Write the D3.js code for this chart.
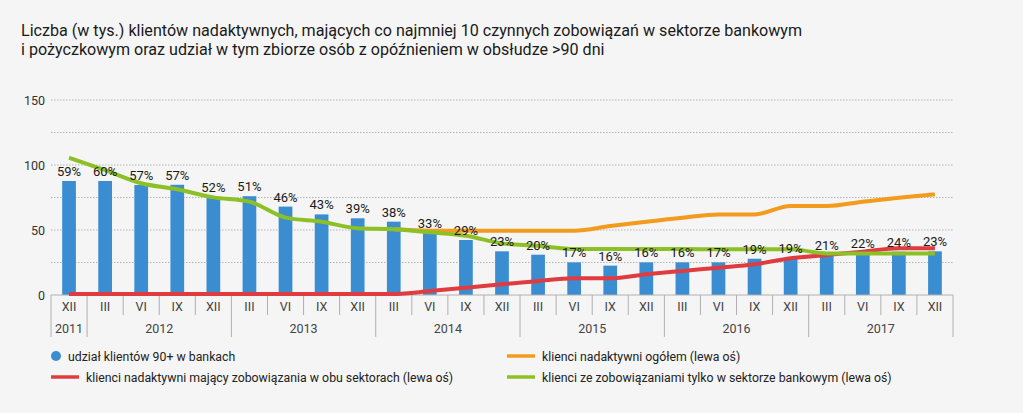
<!DOCTYPE html>
<html><head><meta charset="utf-8">
<script src="https://cdn.jsdelivr.net/npm/d3@7"></script>
<style>
html,body{margin:0;padding:0;background:#f5f5f5;}
svg{display:block;font-family:Roboto,"Open Sans",sans-serif;}
</style></head>
<body>
<svg id="c" width="1023" height="413"></svg>
<script>
const months = ["XII","III","VI","IX","XII","III","VI","IX","XII","III","VI","IX","XII","III","VI","IX","XII","III","VI","IX","XII","III","VI","IX","XII"];
const years = [{label:"2011",from:0,to:0},{label:"2012",from:1,to:4},{label:"2013",from:5,to:8},{label:"2014",from:9,to:12},{label:"2015",from:13,to:16},{label:"2016",from:17,to:20},{label:"2017",from:21,to:24}];
const barValues = [87.7,87.7,84.6,84.8,75.3,76,68,62,59,56.4,47.5,42.3,33.6,31,25.1,22.6,25.1,25.1,25.1,27.9,28.2,30.8,32,33.3,33.6];
const pctLabels = ["59%","60%","57%","57%","52%","51%","46%","43%","39%","38%","33%","29%","23%","20%","17%","16%","16%","16%","17%","19%","19%","21%","22%","24%","23%"];
const totalClients = [null,null,null,null,null,null,null,null,null,50.5,49.5,49.5,49.5,49.5,49.5,53,56.4,59.5,62,62,68.5,68.5,71.8,74.8,77.4];
const bothSectors = [0.8,0.8,0.8,0.8,0.8,0.8,0.8,0.8,0.8,0.8,3,5.6,8.2,10.8,12.8,12.8,15.9,18.5,21,23.6,28.2,30.8,33.3,35.9,35.9];
const bankOnly = [105.6,96,86,81.3,75.1,71.8,59.5,56.4,51.3,50.5,48.2,45.6,39.7,37.9,35.4,35.4,35.4,35.4,35.1,35.1,35.1,32,32,32,32];
const yTicks = [0,50,100,150];
const gridTicks = [0,25,50,75,100,125,150];
const title = ["Liczba (w tys.) klientów nadaktywnych, mających co najmniej 10 czynnych zobowiązań w sektorze bankowym","i pożyczkowym oraz udział w tym zbiorze osób z opóźnieniem w obsłudze >90 dni"];
const legendItems = [
 {label:"udział klientów 90+ w bankach", type:"dot", color:"#3a8dd0", col:0, row:0},
 {label:"klienci nadaktywni mający zobowiązania w obu sektorach (lewa oś)", type:"line", color:"#e03c40", col:0, row:1},
 {label:"klienci nadaktywni ogółem (lewa oś)", type:"line", color:"#f29b1d", col:1, row:0},
 {label:"klienci ze zobowiązaniami tylko w sektorze bankowym (lewa oś)", type:"line", color:"#8cc026", col:1, row:1}
];

const svg = d3.select("#c");
const L = 51, R = 953, T = 100, B = 295;
const x = d3.scaleBand().domain(d3.range(months.length)).range([L,R]).paddingInner(0.62).paddingOuter(0.31);
const xb = d3.scaleBand().domain(d3.range(months.length)).range([L,R]);
const y = d3.scaleLinear().domain([0,150]).range([B,T]);

// title
svg.append("g").selectAll("text").data(title).join("text")
 .attr("x",21).attr("y",(d,i)=>36+i*19).attr("font-size",16.1).attr("fill","#1a1a1a").text(d=>d);

// grid
svg.append("g").selectAll("line").data(gridTicks.filter(d=>d>0)).join("line")
 .attr("x1",L).attr("x2",R).attr("y1",d=>y(d)).attr("y2",d=>y(d))
 .attr("stroke","#b5b5b5").attr("stroke-width",1).attr("stroke-dasharray","1.5,1.5");

// y axis labels
const yAxis = d3.axisLeft(y).tickValues(yTicks).tickSize(0).tickPadding(6);
const ya = svg.append("g").attr("transform",`translate(${L},0)`).call(yAxis);
ya.select(".domain").remove();
ya.selectAll("text").attr("font-size",12.5).attr("fill","#333").attr("font-family","Roboto,sans-serif");

// bars
svg.append("g").selectAll("rect").data(barValues).join("rect")
 .attr("x",(d,i)=>x(i)).attr("width",x.bandwidth()).attr("y",d=>y(d)).attr("height",d=>B-y(d))
 .attr("fill","#3a8dd0");

// x axis
svg.append("line").attr("x1",L).attr("x2",R).attr("y1",B).attr("y2",B).attr("stroke","#b0b0b0");
const bounds = d3.range(months.length+1);
const yearBounds = new Set([0,...years.map(yy=>yy.to+1)]);
svg.append("g").selectAll("line").data(bounds).join("line")
 .attr("x1",i=>i<months.length?xb(i):R).attr("x2",i=>i<months.length?xb(i):R)
 .attr("y1",B).attr("y2",i=>yearBounds.has(i)?337:315)
 .attr("stroke","#b0b0b0");
svg.append("g").selectAll("text").data(months).join("text")
 .attr("x",(d,i)=>xb(i)+xb.bandwidth()/2).attr("y",310.5).attr("text-anchor","middle")
 .attr("font-size",12.5).attr("fill","#444").text(d=>d);
svg.append("g").selectAll("text").data(years).join("text")
 .attr("x",d=>(xb(d.from)+xb(d.to)+xb.bandwidth())/2).attr("y",332.5).attr("text-anchor","middle")
 .attr("font-size",12.5).attr("fill","#444").text(d=>d.label);

// lines
const cx = i=>xb(i)+xb.bandwidth()/2;
const lineGen = d3.line().defined(d=>d!=null).x((d,i)=>cx(i)).y(d=>y(d)).curve(d3.curveMonotoneX);
function drawLine(data,color){
 svg.append("path").datum(data).attr("d",lineGen).attr("fill","none").attr("stroke",color)
  .attr("stroke-width",4).attr("stroke-linejoin","round");
}
drawLine(bothSectors,"#e03c40");
drawLine(totalClients,"#f29b1d");
drawLine(bankOnly,"#8cc026");

// percent labels
svg.append("g").selectAll("text").data(pctLabels).join("text")
 .attr("x",(d,i)=>cx(i)).attr("y",(d,i)=>y(barValues[i])-5).attr("text-anchor","middle")
 .attr("font-size",13).attr("fill","#1a1a1a").text(d=>d);

// legend
const colX = [51,507], rowY=[356,377];
const lg = svg.append("g").selectAll("g").data(legendItems).join("g")
 .attr("transform",d=>`translate(${colX[d.col]},${rowY[d.row]})`);
lg.filter(d=>d.type==="dot").append("circle").attr("cx",5).attr("cy",0).attr("r",5).attr("fill",d=>d.color);
lg.filter(d=>d.type==="line").append("line").attr("x1",0).attr("x2",28).attr("y1",0).attr("y2",0)
 .attr("stroke",d=>d.color).attr("stroke-width",3.5);
lg.append("text").attr("x",d=>d.type==="dot"?17:35).attr("y",4.5).attr("font-size",12.3).attr("fill","#222").text(d=>d.label);
</script>
</body></html>
